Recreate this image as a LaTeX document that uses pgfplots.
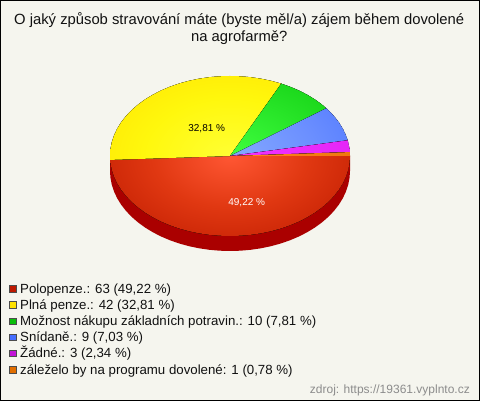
\documentclass[border=0pt]{standalone}
\usepackage{pgfplots}
\pgfplotsset{compat=1.18}
\usepackage{fontspec}
\setmainfont{Liberation Sans}
\definecolor{bgc}{RGB}{245,245,238}
\definecolor{txt}{RGB}{17,17,17}
\definecolor{wall}{RGB}{170,0,0}
\definecolor{sw1}{RGB}{190,25,0}
\definecolor{sw2}{RGB}{255,225,0}
\definecolor{sw3}{RGB}{10,190,10}
\definecolor{sw4}{RGB}{70,110,255}
\definecolor{sw5}{RGB}{195,20,215}
\definecolor{sw6}{RGB}{225,110,0}
\pgfdeclareradialshading{redrad}{\pgfpointorigin}{rgb(0bp)=(1,0.34,0.2); rgb(16bp)=(0.88,0.22,0.07); rgb(34bp)=(0.75,0.11,0); rgb(100bp)=(0.74,0.10,0)}
\pgfdeclareradialshading{yelrad}{\pgfpointorigin}{rgb(0bp)=(1,1,0.2); rgb(18bp)=(1,0.97,0.05); rgb(38bp)=(1,0.88,0); rgb(100bp)=(1,0.87,0)}
\pgfdeclareradialshading{grnrad}{\pgfpointorigin}{rgb(0bp)=(0.25,1,0.25); rgb(20bp)=(0.14,0.88,0.14); rgb(38bp)=(0.04,0.78,0.04); rgb(100bp)=(0.03,0.76,0.03)}
\pgfdeclareradialshading{blurad}{\pgfpointorigin}{rgb(0bp)=(0.52,0.66,1); rgb(18bp)=(0.42,0.56,1); rgb(36bp)=(0.29,0.45,1); rgb(100bp)=(0.28,0.44,1)}
\pgfdeclareradialshading{magrad}{\pgfpointorigin}{rgb(0bp)=(0.95,0.2,1); rgb(25bp)=(0.9,0.15,0.97); rgb(48bp)=(0.76,0.08,0.84); rgb(100bp)=(0.76,0.08,0.84)}
\pgfdeclareradialshading{orgrad}{\pgfpointorigin}{rgb(0bp)=(1,0.52,0.12); rgb(48bp)=(0.88,0.42,0); rgb(100bp)=(0.88,0.42,0)}
\def\sliceguard{0}
\tikzset{slice/.style={draw=none,fill=black,mark=none,path picture={\ifnum\sliceguard=0 \def\sliceguard{1}\shade[shading=#1] (axis cs:230,156) ellipse [x radius=120pt,y radius=80pt];\fi}}}
\pgfplotsset{swatch/.style={only marks,mark=square*,mark size=3.4pt,mark options={draw=black!70,fill=#1,line width=0.8pt}}}
\begin{document}
\begin{tikzpicture}
\begin{axis}[
  scale only axis,width=480pt,height=401pt,
  xmin=0,xmax=480,ymin=0,ymax=401,y dir=reverse,
  hide axis,clip=false,
]
% background and frame
\addplot[fill=bgc,draw=black,line width=1pt,mark=none] coordinates {(0.5,0.5)(479.5,0.5)(479.5,400.5)(0.5,400.5)} -- cycle;
% side wall
\addplot[fill=wall,draw=none,mark=none] coordinates {
(350,156)(350,171)(349.54,177.97)(348.18,184.89)(345.91,191.71)(342.76,198.36)(338.76,204.81)(333.92,211)(328.30,216.89)(321.93,222.42)(314.85,227.57)(307.13,232.28)(298.83,236.53)(290,240.28)(280.71,243.5)(271.04,246.18)(261.06,248.27)(250.84,249.78)(240.46,250.7)(230,251)(219.54,250.7)(209.16,249.78)(198.94,248.27)(188.96,246.18)(179.29,243.5)(170,240.28)(161.17,236.53)(152.87,232.28)(145.15,227.57)(138.07,222.42)(131.7,216.89)(126.08,211)(121.24,204.81)(117.24,198.36)(114.09,191.71)(111.82,184.89)(110.46,177.97)(110,171)(110,156)} -- cycle;
% slices
\addplot[slice=redrad] coordinates {(230,156)(350,156)(349.54,162.97)(348.18,169.89)(345.91,176.71)(342.76,183.36)(338.76,189.81)(333.92,196)(328.30,201.89)(321.93,207.42)(314.85,212.57)(307.13,217.28)(298.83,221.53)(290,225.28)(280.71,228.5)(271.04,231.18)(261.06,233.27)(250.84,234.78)(240.46,235.7)(230,236)(219.54,235.7)(209.16,234.78)(198.94,233.27)(188.96,231.18)(179.29,228.5)(170,225.28)(161.17,221.53)(152.87,217.28)(145.15,212.57)(138.07,207.42)(131.7,201.89)(126.08,196)(121.24,189.81)(117.24,183.36)(114.09,176.71)(111.82,169.89)(110.46,162.97)(110.14,159.9)} -- cycle;
\addplot[slice=yelrad] coordinates {(230,156)(110.14,159.9)(110,156)(110.46,149.03)(111.82,142.11)(114.09,135.29)(117.24,128.64)(121.24,122.19)(126.08,116)(131.7,110.11)(138.07,104.58)(145.15,99.43)(152.87,94.72)(161.17,90.47)(170,86.72)(179.29,83.5)(188.96,80.82)(198.94,78.73)(209.16,77.22)(219.54,76.3)(230,76)(240.46,76.3)(250.84,77.22)(261.06,78.73)(271.04,80.82)(280.71,83.5)(281.28,83.67)} -- cycle;
\addplot[slice=grnrad] coordinates {(230,156)(281.28,83.67)(290,86.72)(298.83,90.47)(307.13,94.72)(314.85,99.43)(321.93,104.58)(326.33,108.3)} -- cycle;
\addplot[slice=blurad] coordinates {(230,156)(326.33,108.3)(328.3,110.11)(333.92,116)(338.76,122.19)(342.76,128.64)(345.91,135.29)(347.67,140.32)} -- cycle;
\addplot[slice=magrad] coordinates {(230,156)(347.67,140.32)(348.18,142.11)(349.54,149.03)(349.86,152.09)} -- cycle;
\addplot[slice=orgrad] coordinates {(230,156)(349.86,152.09)(350,156)} -- cycle;
% legend swatches
\addplot[swatch=sw1] coordinates {(13,289.3)};
\addplot[swatch=sw2] coordinates {(13,305.3)};
\addplot[swatch=sw3] coordinates {(13,321.5)};
\addplot[swatch=sw4] coordinates {(13,337.3)};
\addplot[swatch=sw5] coordinates {(13,353.4)};
\addplot[swatch=sw6] coordinates {(13,369.6)};
% texts
\node[align=center,text=txt,font=\fontsize{14.8pt}{16.5pt}\selectfont,anchor=north,inner sep=0pt] at (axis cs:239.2,12.5) {O jaký způsob stravování máte (byste měl/a) zájem během dovolené\\na agrofarmě?};
\node[text=black,font=\fontsize{10pt}{12pt}\selectfont] at (axis cs:206.7,128.3) {32,81 \%};
\node[text=white,font=\fontsize{10pt}{12pt}\selectfont] at (axis cs:246.7,202.3) {49,22 \%};
\node[anchor=base west,inner sep=0pt,text=txt,font=\fontsize{13.26pt}{14pt}\selectfont] at (axis cs:20,293.8) {Polopenze.: 63 (49,22 \%)};
\node[anchor=base west,inner sep=0pt,text=txt,font=\fontsize{13.26pt}{14pt}\selectfont] at (axis cs:20,309.8) {Plná penze.: 42 (32,81 \%)};
\node[anchor=base west,inner sep=0pt,text=txt,font=\fontsize{13.26pt}{14pt}\selectfont] at (axis cs:20,326) {Možnost nákupu základních potravin.: 10 (7,81 \%)};
\node[anchor=base west,inner sep=0pt,text=txt,font=\fontsize{13.26pt}{14pt}\selectfont] at (axis cs:20,341.8) {Snídaně.: 9 (7,03 \%)};
\node[anchor=base west,inner sep=0pt,text=txt,font=\fontsize{13.26pt}{14pt}\selectfont] at (axis cs:20,357.9) {Žádné.: 3 (2,34 \%)};
\node[anchor=base west,inner sep=0pt,text=txt,font=\fontsize{13.26pt}{14pt}\selectfont] at (axis cs:20,374.1) {záleželo by na programu dovolené: 1 (0,78 \%)};
\node[anchor=base east,inner sep=0pt,text=black!45,font=\fontsize{12pt}{13pt}\selectfont] at (axis cs:470,393) {zdroj: https://19361.vyplnto.cz};
\end{axis}
\end{tikzpicture}
\end{document}
